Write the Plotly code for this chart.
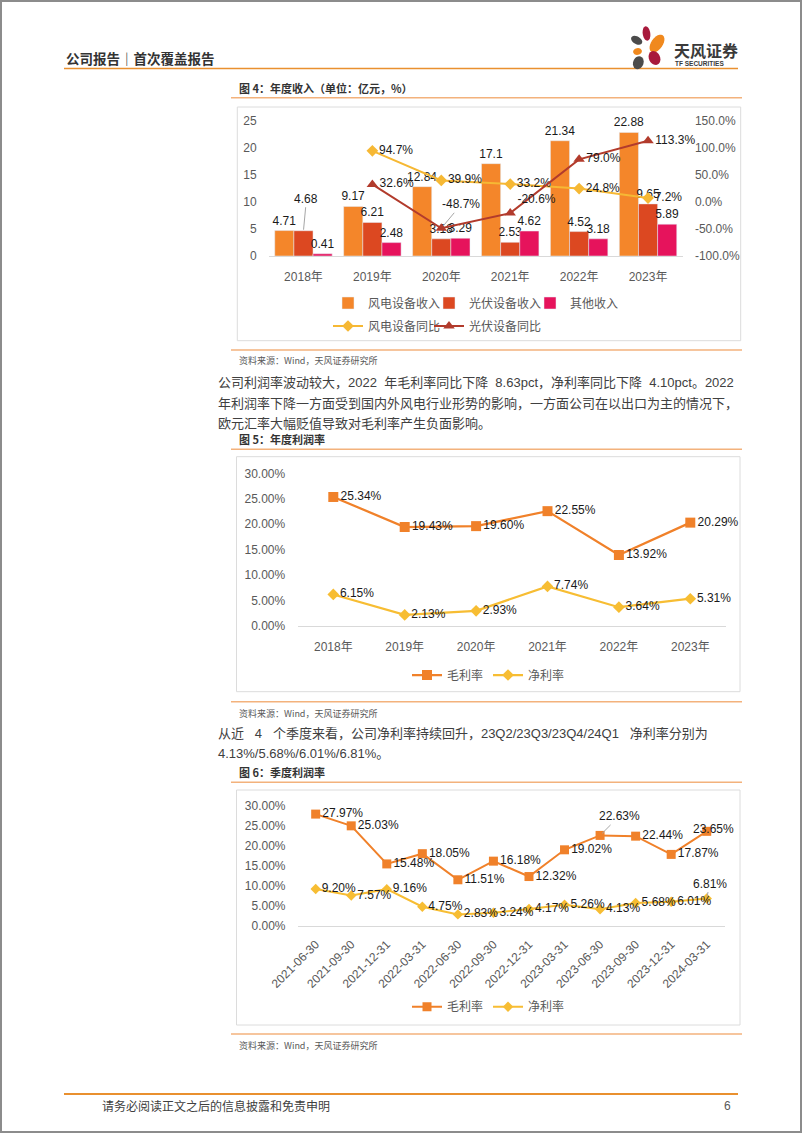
import math
import plotly.graph_objects as go

W, H = 802, 1133


def px(x):
    return x / W


def py(y):
    return 1 - y / H


FONT = "Liberation Sans, Arial, Noto Sans CJK SC, sans-serif"
CJK = "Noto Sans CJK SC, sans-serif"
NB = "\u00a0"

# ---------------- data ----------------
years = ["2018年", "2019年", "2020年", "2021年", "2022年", "2023年"]
wind_rev = [4.71, 9.17, 12.84, 17.1, 21.34, 22.88]
pv_rev = [4.68, 6.21, 3.18, 2.53, 4.52, 9.65]
other_rev = [0.41, 2.48, 3.29, 4.62, 3.18, 5.89]
yoy_years = ["2019年", "2020年", "2021年", "2022年", "2023年"]
wind_yoy = [94.7, 39.9, 33.2, 24.8, 7.2]
pv_yoy = [32.6, -48.7, -20.6, 79.0, 113.3]
rev_ticks = [0, 5, 10, 15, 20, 25]
yoy_ticks = [-100, -50, 0, 50, 100, 150]
yoy_ticktext = ["-100.0%", "-50.0%", "0.0%", "50.0%", "100.0%", "150.0%"]

annual_gross = [25.34, 19.43, 19.60, 22.55, 13.92, 20.29]
annual_net = [6.15, 2.13, 2.93, 7.74, 3.64, 5.31]

quarters = ["2021-06-30", "2021-09-30", "2021-12-31", "2022-03-31", "2022-06-30",
            "2022-09-30", "2022-12-31", "2023-03-31", "2023-06-30", "2023-09-30",
            "2023-12-31", "2024-03-31"]
q_gross = [27.97, 25.03, 15.48, 18.05, 11.51, 16.18, 12.32, 19.02, 22.63, 22.44, 17.87, 23.65]
q_net = [9.20, 7.57, 9.16, 4.75, 2.83, 3.24, 4.17, 5.26, 4.13, 5.68, 6.01, 6.81]
pct_ticks = [0, 5, 10, 15, 20, 25, 30]
pct_ticktext = ["0.00%", "5.00%", "10.00%", "15.00%", "20.00%", "25.00%", "30.00%"]

# ---------------- colours ----------------
C_WIND = "#F4862A"
C_PV = "#DC4821"
C_OTHER = "#E6135C"
C_WIND_L = "#F6B834"
C_PV_L = "#B23B2C"
C_GROSS = "#F0812A"
C_NET = "#F7BD33"
TICK = "#595959"
LBL = dict(family=FONT, size=12, color="#1a1a1a")


def pct(v, d=2):
    return f"{v:.{d}f}%"


fig = go.Figure()

# ---------------- chart 1 ----------------
fig.add_trace(go.Bar(name="风电设备收入", x=years, y=wind_rev, marker_color=C_WIND,
                     text=[f"{v:g}" for v in wind_rev], textposition="outside",
                     textfont=LBL, cliponaxis=False, constraintext="none",
                     xaxis="x", yaxis="y", legend="legend"))
pv_text = [f"{v:g}" for v in pv_rev]
pv_text[0] = ""
fig.add_trace(go.Bar(name="光伏设备收入", x=years, y=pv_rev, marker_color=C_PV,
                     text=pv_text, textposition="outside",
                     textfont=LBL, cliponaxis=False, constraintext="none",
                     xaxis="x", yaxis="y", legend="legend"))
fig.add_trace(go.Bar(name="其他收入", x=years, y=other_rev, marker_color=C_OTHER,
                     text=[f"{v:g}" for v in other_rev], textposition="outside",
                     textfont=LBL, cliponaxis=False, constraintext="none",
                     xaxis="x", yaxis="y", legend="legend"))
fig.add_trace(go.Scatter(name="风电设备同比", x=yoy_years, y=wind_yoy, mode="lines+markers+text",
                         line=dict(color=C_WIND_L, width=2),
                         marker=dict(symbol="diamond", size=9, color=C_WIND_L),
                         text=[pct(v, 1) for v in wind_yoy], textposition="middle right",
                         textfont=LBL, cliponaxis=False,
                         xaxis="x", yaxis="y2", legend="legend2"))
pv_yoy_text = [pct(v, 1) for v in pv_yoy]
pv_yoy_text[1] = ""
pv_yoy_pos = ["middle right", "middle right", "top right", "middle right", "middle right"]
fig.add_trace(go.Scatter(name="光伏设备同比", x=yoy_years, y=pv_yoy, mode="lines+markers+text",
                         line=dict(color=C_PV_L, width=2),
                         marker=dict(symbol="triangle-up", size=10, color=C_PV_L),
                         text=pv_yoy_text, textposition=pv_yoy_pos,
                         textfont=LBL, cliponaxis=False,
                         xaxis="x", yaxis="y2", legend="legend2"))
# invisible spacer entry so the second legend row is not clipped
fig.add_trace(go.Scatter(name=" ", x=[None], y=[None], mode="markers",
                         marker=dict(color="rgba(0,0,0,0)", size=1),
                         xaxis="x", yaxis="y2", legend="legend2", hoverinfo="skip"))

# ---------------- chart 2 ----------------
fig.add_trace(go.Scatter(name="毛利率", x=years, y=annual_gross, mode="lines+markers+text",
                         line=dict(color=C_GROSS, width=2.25),
                         marker=dict(symbol="square", size=10, color=C_GROSS),
                         text=[pct(v) for v in annual_gross], textposition="middle right",
                         textfont=LBL, cliponaxis=False,
                         xaxis="x2", yaxis="y3", legend="legend3"))
fig.add_trace(go.Scatter(name="净利率", x=years, y=annual_net, mode="lines+markers+text",
                         line=dict(color=C_NET, width=2.25),
                         marker=dict(symbol="diamond", size=9, color=C_NET),
                         text=[pct(v) for v in annual_net], textposition="middle right",
                         textfont=LBL, cliponaxis=False,
                         xaxis="x2", yaxis="y3", legend="legend3"))

# ---------------- chart 3 ----------------
qg_text = [pct(v) for v in q_gross]
qg_text[8] = ""
qg_text[11] = ""
fig.add_trace(go.Scatter(name="毛利率", x=quarters, y=q_gross, mode="lines+markers+text",
                         line=dict(color=C_GROSS, width=2),
                         marker=dict(symbol="square", size=9, color=C_GROSS),
                         text=qg_text, textposition="middle right",
                         textfont=LBL, cliponaxis=False,
                         xaxis="x3", yaxis="y4", legend="legend4"))
qn_text = [pct(v) for v in q_net]
qn_text[11] = ""
fig.add_trace(go.Scatter(name="净利率", x=quarters, y=q_net, mode="lines+markers+text",
                         line=dict(color=C_NET, width=2),
                         marker=dict(symbol="diamond", size=8, color=C_NET),
                         text=qn_text, textposition="middle right",
                         textfont=LBL, cliponaxis=False,
                         xaxis="x3", yaxis="y4", legend="legend4"))

# ---------------- axes ----------------
tickfont = dict(family=FONT, size=12, color=TICK)
hidden_tick = dict(ticks="outside", tickcolor="rgba(0,0,0,0)", automargin=False)


def cat_axis(dom, anchor, n, ticklen=10, angle=0):
    return dict(domain=[px(dom[0]), px(dom[1])], anchor=anchor, type="category",
                range=[-0.5, n - 0.5], showline=True, linecolor="#D9D9D9", linewidth=1,
                showgrid=False, zeroline=False, tickfont=tickfont, ticklen=ticklen,
                tickangle=angle, fixedrange=True, **hidden_tick)


def val_axis(dom, anchor, rng, tickvals, ticktext=None, side="left", overlay=None, ticklen=9):
    d = dict(anchor=anchor, range=rng, tickvals=tickvals, showgrid=False, zeroline=False,
             showline=False, tickfont=tickfont, ticklen=ticklen, side=side, fixedrange=True,
             **hidden_tick)
    if ticktext is not None:
        d["ticktext"] = ticktext
    if overlay:
        d["overlaying"] = overlay
    else:
        d["domain"] = [py(dom[1]), py(dom[0])]
    return d


C1X = (269, 682.5)
C1Y = (121, 256)
C2X = (297.6, 726)
C2Y = (473.3, 625.7)
C3X = (297.9, 724.5)
C3Y = (806, 925.7)

fig.update_layout(
    xaxis=cat_axis(C1X, "y", 6, ticklen=10),
    yaxis=val_axis(C1Y, "x", [0, 25], rev_ticks, ticklen=9),
    yaxis2=val_axis(C1Y, "x", [-100, 150], yoy_ticks, yoy_ticktext, side="right",
                    overlay="y", ticklen=9),
    xaxis2=cat_axis(C2X, "y3", 6, ticklen=10),
    yaxis3=val_axis(C2Y, "x2", [0, 30], pct_ticks, pct_ticktext, ticklen=9),
    xaxis3=cat_axis(C3X, "y4", 12, ticklen=6, angle=-45),
    yaxis4=val_axis(C3Y, "x3", [0, 30], pct_ticks, pct_ticktext, ticklen=9),
    barmode="group", bargap=0.167, bargroupgap=0,
)


# ---------------- legends ----------------
def legend(x, y, ew=None):
    d = dict(orientation="h", x=px(x), y=py(y), xanchor="left", yanchor="middle",
             font=dict(family=FONT, size=12, color=TICK), bgcolor="rgba(0,0,0,0)",
             borderwidth=0, traceorder="normal", itemclick=False, itemdoubleclick=False)
    if ew:
        d["entrywidth"] = ew
        d["entrywidthmode"] = "pixels"
    return d


fig.update_layout(
    legend=legend(328, 303, 56),
    legend2=legend(328, 326, 56),
    legend3=legend(407, 675),
    legend4=legend(407, 1006.7),
)

# ---------------- special data labels ----------------
ann = []
ann.append(dict(x=years[0], y=pv_rev[0], xref="x", yref="y", text=f"{pv_rev[0]:g}",
                showarrow=True, arrowhead=0, arrowwidth=1, arrowcolor="#A6A6A6",
                ax=3, ay=-32, font=LBL, standoff=1))
ann.append(dict(x=yoy_years[1], y=pv_yoy[1], xref="x", yref="y2", text=pct(pv_yoy[1], 1),
                showarrow=True, arrowhead=0, arrowwidth=1, arrowcolor="#A6A6A6",
                ax=20, ay=-24, font=LBL, standoff=3))
ann.append(dict(x=quarters[8], y=q_gross[8], xref="x3", yref="y4", text=pct(q_gross[8]),
                showarrow=True, arrowhead=0, arrowwidth=1, arrowcolor="#A6A6A6",
                ax=19, ay=-19, font=LBL, standoff=3))
ann.append(dict(x=quarters[11], y=q_gross[11], xref="x3", yref="y4", text=pct(q_gross[11]),
                showarrow=False, xshift=7, yshift=2, font=LBL))
ann.append(dict(x=quarters[11], y=q_net[11], xref="x3", yref="y4", text=pct(q_net[11]),
                showarrow=True, arrowhead=0, arrowwidth=1, arrowcolor="#A6A6A6",
                ax=3, ay=-15, font=LBL, standoff=2))


# ---------------- page text ----------------
def txt(x, y, s, size=13, color="#404040", family=CJK, weight="normal", xanchor="left"):
    ann.append(dict(x=px(x), y=py(y), xref="paper", yref="paper", text=s, showarrow=False,
                    xanchor=xanchor, yanchor="middle",
                    font=dict(family=family, size=size, color=color, weight=weight)))


txt(64, 58.3, "公司报告｜首次覆盖报告", size=13.5, color="#333333", weight="bold")
txt(672, 50, "天风证券", size=16, color="#3a3a3a", weight="bold")
txt(673, 64, "TF SECURITIES", size=6.5, color="#3a3a3a", family=FONT, weight="bold")

txt(237, 88.3, "图 4：年度收入（单位：亿元，%）", size=11, color="#333333", weight="bold")
txt(237, 360.5, "资料来源：Wind，天风证券研究所", size=9, color="#595959")
p1 = ["公司利润率波动较大，2022" + NB * 2 + "年毛利率同比下降" + NB * 2 + "8.63pct，净利率同比下降"
      + NB * 2 + "4.10pct。2022",
      "年利润率下降一方面受到国内外风电行业形势的影响，一方面公司在以出口为主的情况下，",
      "欧元汇率大幅贬值导致对毛利率产生负面影响。"]
for i, s in enumerate(p1):
    txt(216, 382.5 + 20.5 * i, s, size=13, family=FONT)
txt(237, 439.3, "图 5：年度利润率", size=11, color="#333333", weight="bold")
txt(237, 713, "资料来源：Wind，天风证券研究所", size=9, color="#595959")
p2 = ["从近" + NB * 3 + "4" + NB * 3 + "个季度来看，公司净利率持续回升，23Q2/23Q3/23Q4/24Q1"
      + NB * 3 + "净利率分别为",
      "4.13%/5.68%/6.01%/6.81%。"]
for i, s in enumerate(p2):
    txt(216, 733.3 + 20.3 * i, s, size=13, family=FONT)
txt(237, 771.7, "图 6：季度利润率", size=11, color="#333333", weight="bold")
txt(237, 1045, "资料来源：Wind，天风证券研究所", size=9, color="#595959")
txt(100, 1105.7, "请务必阅读正文之后的信息披露和免责申明", size=12, color="#404040")
txt(733, 1105.7, "6", size=12, color="#595959", family=FONT, xanchor="right")

fig.update_layout(annotations=ann)

# ---------------- shapes ----------------
shapes = []


def hline(y, x0, x1, color, width):
    shapes.append(dict(type="line", xref="paper", yref="paper", x0=px(x0), x1=px(x1),
                       y0=py(y), y1=py(y), line=dict(color=color, width=width)))


def rect(x0, y0, x1, y1, color, width=1):
    shapes.append(dict(type="rect", xref="paper", yref="paper", x0=px(x0), x1=px(x1),
                       y0=py(y1), y1=py(y0), line=dict(color=color, width=width),
                       fillcolor="rgba(0,0,0,0)", layer="below"))


def ellipse(cx, cy, rx, ry, ang, color):
    pts = []
    a = math.radians(ang)
    for k in range(24):
        t = 2 * math.pi * k / 24
        ex, ey = rx * math.cos(t), ry * math.sin(t)
        x = cx + ex * math.cos(a) - ey * math.sin(a)
        y = cy + ex * math.sin(a) + ey * math.cos(a)
        pts.append(f"{px(x):.5f},{py(y):.5f}")
    path = "M" + " L".join(pts) + " Z"
    shapes.append(dict(type="path", xref="paper", yref="paper", path=path,
                       fillcolor=color, line=dict(width=0)))


rect(1, 1, 801, 1132, "#8c8c8c", 2)
hline(68.5, 64, 738, "#E9902F", 1.6)
hline(97.7, 231, 742, "#F3B27C", 1.6)
rect(237.3, 107, 740.7, 340.7, "#DCDCDC", 1)
hline(350, 231, 742, "#F3B27C", 1.6)
hline(449.3, 231, 742, "#F3B27C", 1.6)
rect(236.5, 456.7, 740, 691.7, "#DCDCDC", 1)
hline(701.7, 231, 742, "#F3B27C", 1.6)
hline(782.3, 231, 742, "#F3B27C", 1.6)
rect(236.5, 790, 740, 1025, "#DCDCDC", 1)
hline(1034, 231, 742, "#F3B27C", 1.6)
hline(1094, 64, 738, "#E9902F", 2)

# logo petals
ellipse(646.5, 33.5, 3.8, 7.2, -8, "#A81A3C")
ellipse(657, 43.5, 5.8, 10, 35, "#F0891E")
ellipse(636.7, 40.3, 6, 3.8, 30, "#4B4B4B")
ellipse(637.5, 51.5, 4.4, 3.4, -10, "#F0891E")
ellipse(654.5, 58, 5.6, 7.2, -25, "#A81A3C")
ellipse(638.3, 62.7, 5.2, 6.6, 20, "#4B4B4B")

fig.update_layout(shapes=shapes)

fig.update_layout(
    width=W, height=H, margin=dict(l=0, r=0, t=0, b=0, pad=0, autoexpand=False),
    paper_bgcolor="white", plot_bgcolor="rgba(0,0,0,0)",
    font=dict(family=FONT, size=12, color=TICK),
    showlegend=True, hovermode=False,
)

fig.write_html("out.html", config={"displayModeBar": False},
               post_script="document.body.style.margin='0px';"
                           "document.body.style.overflow='hidden';")
